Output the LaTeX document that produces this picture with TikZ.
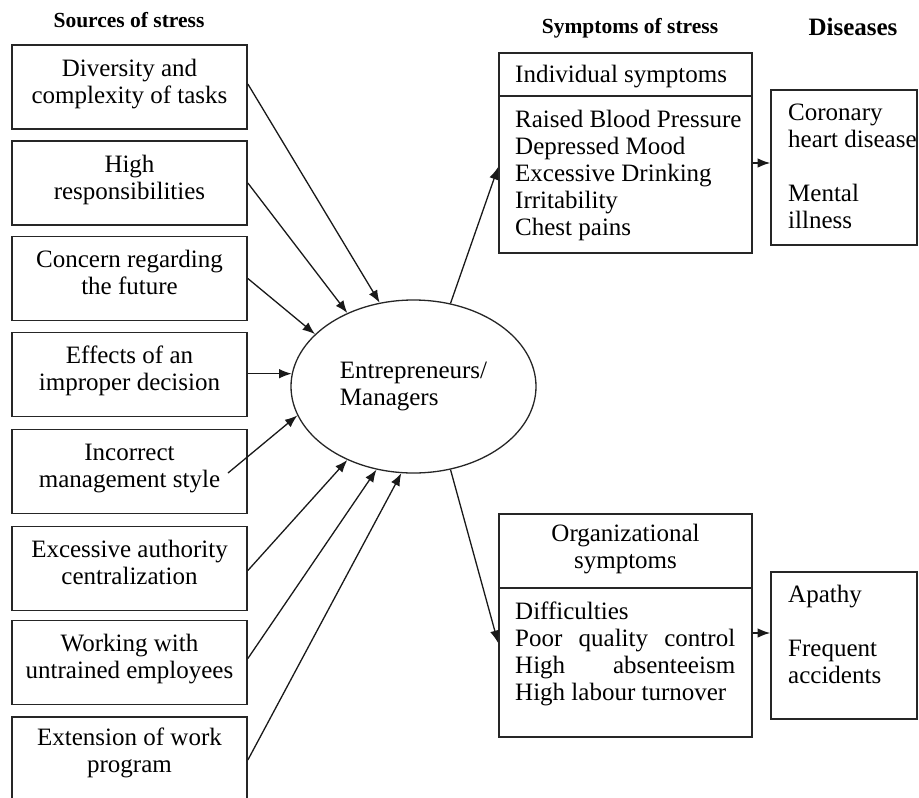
\documentclass[tikz,border=0pt]{standalone}
\usepackage{fontspec}
\setmainfont{Liberation Serif}
\usetikzlibrary{shapes.geometric,arrows.meta}
\tikzset{
  srcbox/.style={draw=black!85, line width=1.7pt, rectangle, inner sep=0pt,
    minimum width=235pt, minimum height=84pt, align=center,
    text height=45pt, text depth=13pt,
    font=\fontsize{25}{27}\selectfont},
  rbox/.style={draw=black!85, line width=1.7pt, rectangle, inner sep=0pt},
  txt/.style={inner sep=0pt, align=left, font=\fontsize{25}{27}\selectfont},
  hdr/.style={inner sep=0pt, font=\fontsize{21.5}{24}\selectfont\bfseries},
  arr/.style={-{Latex[length=12.5pt,width=9.5pt]}, line width=1.3pt, black!90},
}
\begin{document}
\begin{tikzpicture}[x=1pt,y=-1pt]
\useasboundingbox (0,0) rectangle (919,798);
\clip (0,0) rectangle (919,798);
% headers
\node[hdr, anchor=base] (hsrc) at (129,27) {Sources of stress};
\node[hdr, anchor=base] (hsym) at (630,33) {Symptoms of stress};
\node[hdr, anchor=base, font=\fontsize{25}{27}\selectfont\bfseries] (hdis) at (853,35) {Diseases};
% source boxes
\node[srcbox] (b1) at (129.5,87)    {Diversity and\\complexity of tasks};
\node[srcbox] (b2) at (129.5,183)   {High\\responsibilities};
\node[srcbox] (b3) at (129.5,278.5) {Concern regarding\\the future};
\node[srcbox] (b4) at (129.5,374.5) {Effects of an\\improper decision};
\node[srcbox] (b5) at (129.5,471.5) {Incorrect\\management style};
\node[srcbox] (b6) at (129.5,568.5) {Excessive authority\\centralization};
\node[srcbox] (b7) at (129.5,662.5) {Working with\\untrained employees};
\node[srcbox, text depth=19pt] (b8) at (129.5,759) {Extension of work\\program};
% ellipse
\node[draw=black!85, line width=1.3pt, ellipse, inner sep=0pt,
      minimum width=245pt, minimum height=173pt, align=left,
      font=\fontsize{25}{27.5}\selectfont] (ell) at (413.5,386.5) {Entrepreneurs/\\Managers};
% right boxes
\node[rbox, minimum width=253pt, minimum height=200pt] (ind) at (625.5,153) {};
\draw[black!85, line width=1.7pt] ([yshift=-44pt]ind.north west) -- ([yshift=-44pt]ind.north east);
\node[txt, anchor=base west] (indh) at (515,82) {Individual symptoms};
\node[txt, anchor=base west] (indb) at (515,235) {Raised Blood Pressure\\Depressed Mood\\Excessive Drinking\\Irritability\\Chest pains};
\node[rbox, minimum width=146pt, minimum height=155pt] (dis1) at (844,167.5) {};
\node[txt, anchor=base west] (dis1t) at (788,228) {Coronary\\heart disease\\[27pt]Mental\\illness};
\node[rbox, minimum width=253pt, minimum height=223pt] (org) at (625.5,625.5) {};
\draw[black!85, line width=1.7pt] ([yshift=-75pt]org.north west) -- ([yshift=-75pt]org.north east);
\node[txt, anchor=base, align=center] (orgh) at (625.5,568) {Organizational\\symptoms};
\node[txt, anchor=base west] (orgb) at (515,700) {Difficulties\\\hbox to 220pt{Poor\hfil quality\hfil control}\\\hbox to 220pt{High\hfil absenteeism}\\High labour turnover};
\node[rbox, minimum width=146pt, minimum height=147pt] (dis2) at (844,645.5) {};
\node[txt, anchor=base west] (dis2t) at (788,683) {Apathy\\[27pt]Frequent\\accidents};
% connectors into ellipse
\coordinate (c5) at (228,473);
\draw[arr] ([yshift=3pt]b1.east) -- (ell.112);
\draw[arr] (b2.east) -- (ell.132);
\draw[arr] (b3.east) -- (ell.152.5);
\draw[arr] (ell.174 -| b4.east) -- (ell.174);
\draw[arr] (c5) -- (ell.194.5);
\draw[arr] ([yshift=-2pt]b6.east) -- (ell.228.5);
\draw[arr] ([yshift=4pt]b7.east) -- (ell.246.5);
\draw[arr] ([yshift=-1pt]b8.east) -- (ell.262.5);
% connectors out
\draw[arr] (ell.66) -- ([yshift=-14pt]ind.west);
\draw[arr] (ell.294) -- ([yshift=-17.5pt]org.west);
\draw[arr] ([yshift=4.5pt]dis1.west -| ind.east) -- ([yshift=4.5pt]dis1.west);
\draw[arr] ([yshift=12.5pt]dis2.west -| org.east) -- ([yshift=12.5pt]dis2.west);
\end{tikzpicture}
\end{document}
